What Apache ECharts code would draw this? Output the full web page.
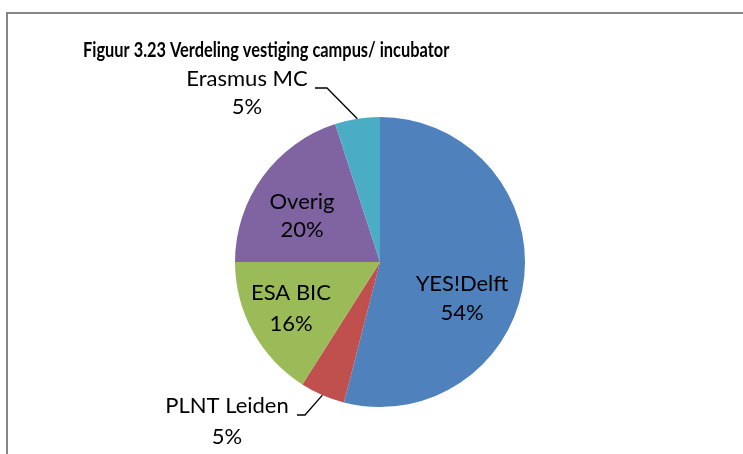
<!DOCTYPE html>
<html>
<head>
<meta charset="utf-8">
<script src="https://cdn.jsdelivr.net/npm/echarts@6/dist/echarts.min.js"></script>
<style>
html,body{margin:0;padding:0;background:#fff;}
#c{width:743px;height:454px;}
</style>
</head>
<body>
<div id="c"></div>
<script>
const titleText = 'Figuur 3.23 Verdeling vestiging campus/ incubator';
const categories = ['YES!Delft', 'PLNT Leiden', 'ESA BIC', 'Overig', 'Erasmus MC'];
const values = [54, 5, 16, 20, 5];
const colors = ['#4F81BD', '#C0504D', '#9BBB59', '#8064A2', '#4BACC6'];

const FONT = 'Lato, "Liberation Sans", sans-serif';
const CX = 380, CY = 262, R = 145;

// label layout (block centres, relative placement only)
const labelPlace = [
  {x: 462, y: 298, lh: 29, outside: false},
  {x: 227, y: 421, lh: 31, outside: true, bend: [305, 415], end: [297, 415]},
  {x: 291, y: 308, lh: 31, outside: false},
  {x: 302, y: 216, lh: 28, outside: false},
  {x: 247, y: 93, lh: 28, outside: true, bend: [327, 88], end: [315, 88]}
];

const chart = echarts.init(document.getElementById('c'), null, {renderer: 'canvas'});

const data = categories.map((name, i) => ({
  name: name,
  value: values[i],
  itemStyle: {color: colors[i]},
  label: {
    position: labelPlace[i].outside ? 'outside' : 'inside',
    lineHeight: labelPlace[i].lh
  },
  labelLine: {show: labelPlace[i].outside}
}));

chart.setOption({
  animation: false,
  graphic: [{
    type: 'polyline',
    shape: {points: [[7, 454], [7, 13], [743, 13]]},
    style: {stroke: '#868686', lineWidth: 2, fill: null},
    silent: true
  }, {
    type: 'text',
    x: 83, y: 50.5,
    scaleX: 0.78,
    style: {
      text: titleText,
      fontFamily: FONT, fontWeight: 'bold', fontSize: 21,
      fill: '#000',
      align: 'left', verticalAlign: 'middle'
    },
    silent: true
  }],
  series: [{
    type: 'pie',
    center: [CX, CY],
    radius: [0, R],
    startAngle: 90,
    clockwise: true,
    avoidLabelOverlap: false,
    itemStyle: {borderWidth: 0},
    label: {
      show: true,
      formatter: p => p.name + '\n' + Math.round(p.percent) + '%',
      fontFamily: FONT,
      fontSize: 22,
      color: '#000',
      align: 'center'
    },
    labelLine: {
      lineStyle: {color: '#000', width: 1.3},
      length: 20, length2: 10
    },
    labelLayout: function (params) {
      const lp = labelPlace[params.dataIndex];
      const out = {x: lp.x, y: lp.y, align: 'center', verticalAlign: 'middle'};
      if (lp.outside && params.labelLinePoints) {
        const start = params.labelLinePoints[0];
        out.labelLinePoints = [start, lp.bend, lp.end];
      }
      return out;
    },
    data: data
  }]
});
</script>
</body>
</html>
